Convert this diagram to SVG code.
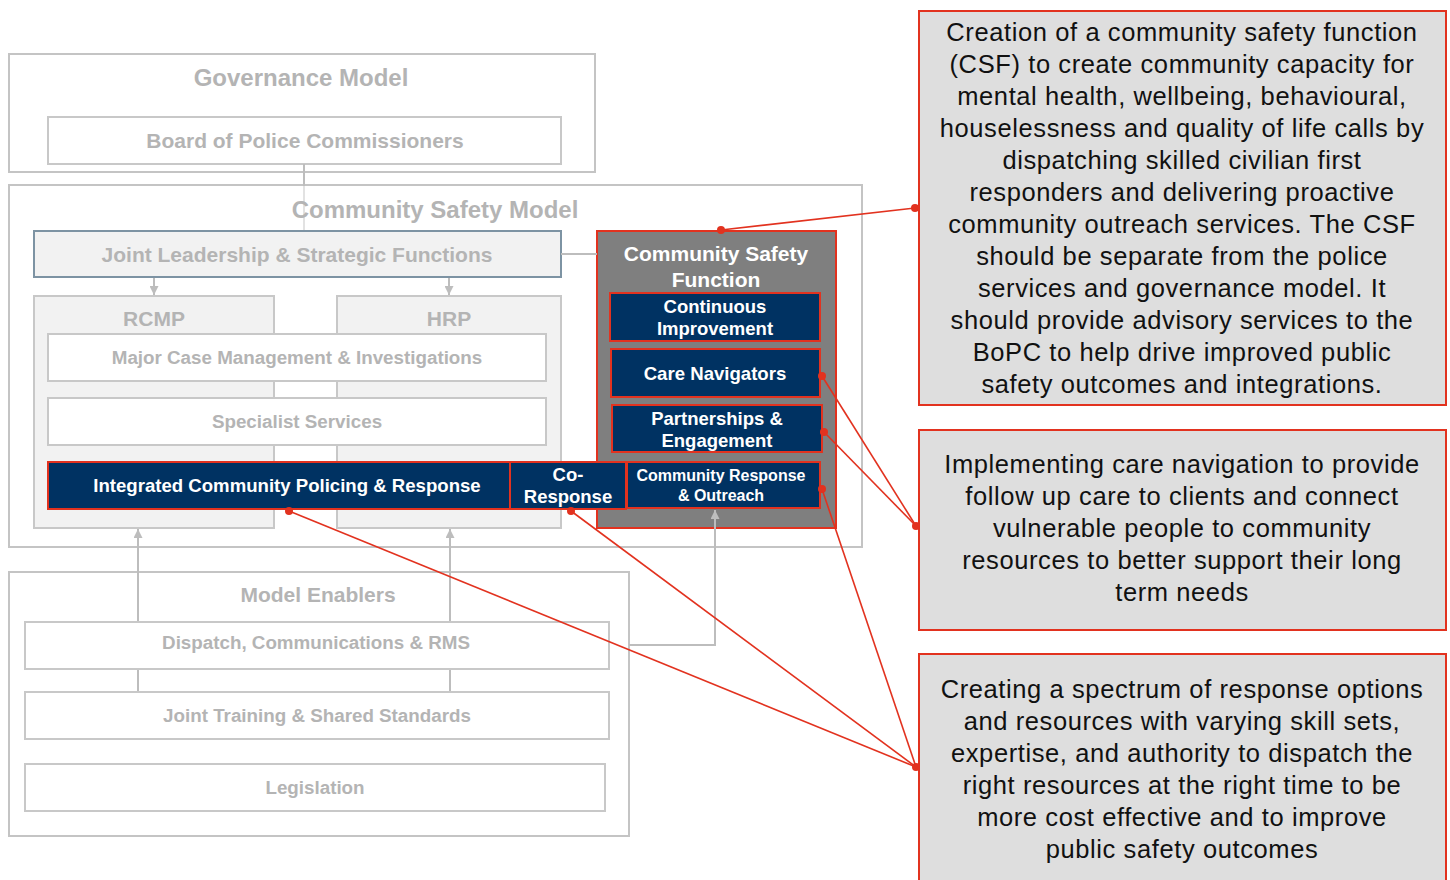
<svg xmlns="http://www.w3.org/2000/svg" width="1450" height="880" viewBox="0 0 1450 880">
<defs>
<style>
.frame{fill:#fff;stroke:#c4c4c4;stroke-width:2}
.col{fill:#f2f2f2;stroke:#c8c8c8;stroke-width:2}
.wbox{fill:#fff;stroke:#c8c8c8;stroke-width:2}
.navy{fill:#003262;stroke:#e2321f;stroke-width:2}
.call{fill:#dedede;stroke:#e2321f;stroke-width:2}
.gt{font-family:"Liberation Sans",Arial,sans-serif;font-weight:bold;fill:#b4b4b4;text-anchor:middle}
.wt{font-family:"Liberation Sans",Arial,sans-serif;font-weight:bold;fill:#fff;text-anchor:middle}
.ct{font-family:"Liberation Sans",Arial,sans-serif;fill:#111;text-anchor:middle;font-size:25.5px;letter-spacing:0.6px}
.gl{stroke:#bdbdbd;stroke-width:2;fill:none}
.rl{stroke:#e2321f;stroke-width:1.6;fill:none}
.dot{fill:#e2321f}
</style>
<marker id="ga" viewBox="0 0 10 10" refX="10" refY="5" markerWidth="10" markerHeight="9" markerUnits="userSpaceOnUse" orient="auto"><path d="M0,0 L10,5 L0,10 z" fill="#bdbdbd"/></marker>
</defs>

<g id="governance">
<rect class="frame" x="9" y="54" width="586" height="118"/>
<text class="gt" x="301" y="86" font-size="24">Governance Model</text>
<rect class="wbox" x="48" y="117" width="513" height="47"/>
<text class="gt" x="305" y="148" font-size="21">Board of Police Commissioners</text>
</g>

<g id="csm">
<rect class="frame" x="9" y="185" width="853" height="362"/>
<line x1="304" y1="164" x2="304" y2="186" stroke="#bdbdbd" stroke-width="2"/>
<line x1="304" y1="186" x2="304" y2="230" stroke="#e2e2e2" stroke-width="2"/>
<text class="gt" x="435" y="218" font-size="24">Community Safety Model</text>
</g>

<g id="joint-leadership">
<rect x="34" y="231" width="527" height="46" fill="#f2f2f2" stroke="#7d93a3" stroke-width="2"/>
<text class="gt" x="297" y="262" font-size="21">Joint Leadership &amp; Strategic Functions</text>
</g>

<g id="rcmp">
<rect class="col" x="34" y="296" width="240" height="232"/>
<text class="gt" x="154" y="326" font-size="21">RCMP</text>
</g>
<g id="hrp">
<rect class="col" x="337" y="296" width="224" height="232"/>
<text class="gt" x="449" y="326" font-size="21">HRP</text>
</g>

<g id="major-case">
<rect class="wbox" x="48" y="334" width="498" height="47"/>
<text class="gt" x="297" y="364" font-size="18.8">Major Case Management &amp; Investigations</text>
</g>
<g id="specialist">
<rect class="wbox" x="48" y="398" width="498" height="47"/>
<text class="gt" x="297" y="428" font-size="18.8">Specialist Services</text>
</g>

<g id="csf">
<rect x="597" y="231" width="239" height="297" fill="#7f7f7f" stroke="#e2321f" stroke-width="2"/>
<text class="wt" x="716" y="261" font-size="21">Community Safety</text>
<text class="wt" x="716" y="287" font-size="21">Function</text>
</g>
<g id="continuous-improvement">
<rect class="navy" x="610" y="293" width="210" height="48"/>
<text class="wt" x="715" y="313" font-size="18.5">Continuous</text>
<text class="wt" x="715" y="335" font-size="18.5">Improvement</text>
</g>
<g id="care-navigators">
<rect class="navy" x="611" y="349" width="209" height="48"/>
<text class="wt" x="715" y="380" font-size="18.6">Care Navigators</text>
</g>
<g id="partnerships">
<rect class="navy" x="612" y="405" width="210" height="47"/>
<text class="wt" x="717" y="425" font-size="18.5">Partnerships &amp;</text>
<text class="wt" x="717" y="447" font-size="18.5">Engagement</text>
</g>

<g id="integrated">
<rect class="navy" x="48" y="462" width="462" height="47"/>
<text class="wt" x="287" y="491.5" font-size="18.6">Integrated Community Policing &amp; Response</text>
</g>
<g id="co-response">
<rect class="navy" x="510" y="462" width="116" height="47"/>
<text class="wt" x="568" y="481" font-size="18.5">Co-</text>
<text class="wt" x="568" y="503" font-size="18.5">Response</text>
</g>
<g id="community-response">
<rect class="navy" x="627" y="462" width="193" height="46"/>
<text class="wt" x="721" y="481" font-size="16">Community Response</text>
<text class="wt" x="721" y="501" font-size="16">&amp; Outreach</text>
</g>

<g id="model-enablers">
<rect class="frame" x="9" y="572" width="620" height="264"/>
<text class="gt" x="318" y="602" font-size="21">Model Enablers</text>
</g>
<g id="dispatch">
<rect class="wbox" x="25" y="622" width="584" height="47"/>
<text class="gt" x="316" y="649" font-size="18.8">Dispatch, Communications &amp; RMS</text>
</g>
<g id="joint-training">
<rect class="wbox" x="25" y="692" width="584" height="47"/>
<text class="gt" x="317" y="722" font-size="18.8">Joint Training &amp; Shared Standards</text>
</g>
<g id="legislation">
<rect class="wbox" x="25" y="764" width="580" height="47"/>
<text class="gt" x="315" y="794" font-size="18.8">Legislation</text>
</g>

<g id="callout-csf">
<rect class="call" x="919" y="11" width="527" height="394"/>
<text class="ct" x="1182" y="41">Creation of a community safety function</text>
<text class="ct" x="1182" y="73">(CSF) to create community capacity for</text>
<text class="ct" x="1182" y="105">mental health, wellbeing, behavioural,</text>
<text class="ct" x="1182" y="137">houselessness and quality of life calls by</text>
<text class="ct" x="1182" y="169">dispatching skilled civilian first</text>
<text class="ct" x="1182" y="201">responders and delivering proactive</text>
<text class="ct" x="1182" y="233">community outreach services. The CSF</text>
<text class="ct" x="1182" y="265">should be separate from the police</text>
<text class="ct" x="1182" y="297">services and governance model. It</text>
<text class="ct" x="1182" y="329">should provide advisory services to the</text>
<text class="ct" x="1182" y="361">BoPC to help drive improved public</text>
<text class="ct" x="1182" y="393">safety outcomes and integrations.</text>
</g>
<g id="callout-care">
<rect class="call" x="919" y="430" width="527" height="200"/>
<text class="ct" x="1182" y="473">Implementing care navigation to provide</text>
<text class="ct" x="1182" y="505">follow up care to clients and connect</text>
<text class="ct" x="1182" y="537">vulnerable people to community</text>
<text class="ct" x="1182" y="569">resources to better support their long</text>
<text class="ct" x="1182" y="601">term needs</text>
</g>
<g id="callout-spectrum">
<rect class="call" x="919" y="654" width="527" height="240"/>
<text class="ct" x="1182" y="698">Creating a spectrum of response options</text>
<text class="ct" x="1182" y="730">and resources with varying skill sets,</text>
<text class="ct" x="1182" y="762">expertise, and authority to dispatch the</text>
<text class="ct" x="1182" y="794">right resources at the right time to be</text>
<text class="ct" x="1182" y="826">more cost effective and to improve</text>
<text class="ct" x="1182" y="858">public safety outcomes</text>
</g>

<g id="connectors">
<line class="gl" x1="561" y1="254" x2="597" y2="254"/>
<line class="gl" x1="154" y1="278" x2="154" y2="295" marker-end="url(#ga)"/>
<line class="gl" x1="449" y1="278" x2="449" y2="295" marker-end="url(#ga)"/>
<line class="gl" x1="138" y1="621" x2="138" y2="529" marker-end="url(#ga)"/>
<line class="gl" x1="450" y1="621" x2="450" y2="529" marker-end="url(#ga)"/>
<line class="gl" x1="138" y1="670" x2="138" y2="691"/>
<line class="gl" x1="450" y1="670" x2="450" y2="691"/>
<polyline class="gl" points="629,645 715,645 715,510" marker-end="url(#ga)"/>
<line class="rl" x1="721" y1="230" x2="915" y2="208"/>
<line class="rl" x1="822" y1="376" x2="916" y2="526"/>
<line class="rl" x1="824" y1="432" x2="916" y2="526"/>
<line class="rl" x1="822" y1="489" x2="916" y2="767"/>
<line class="rl" x1="289" y1="511" x2="916" y2="767"/>
<line class="rl" x1="571" y1="511" x2="916" y2="767"/>
<circle class="dot" cx="721" cy="230" r="4"/>
<circle class="dot" cx="915" cy="208" r="4"/>
<circle class="dot" cx="822" cy="376" r="4"/>
<circle class="dot" cx="824" cy="432" r="4"/>
<circle class="dot" cx="822" cy="489" r="4"/>
<circle class="dot" cx="289" cy="511" r="4"/>
<circle class="dot" cx="571" cy="511" r="4"/>
<circle class="dot" cx="916" cy="526" r="4"/>
<circle class="dot" cx="916" cy="767" r="4"/>
</g>
</svg>
